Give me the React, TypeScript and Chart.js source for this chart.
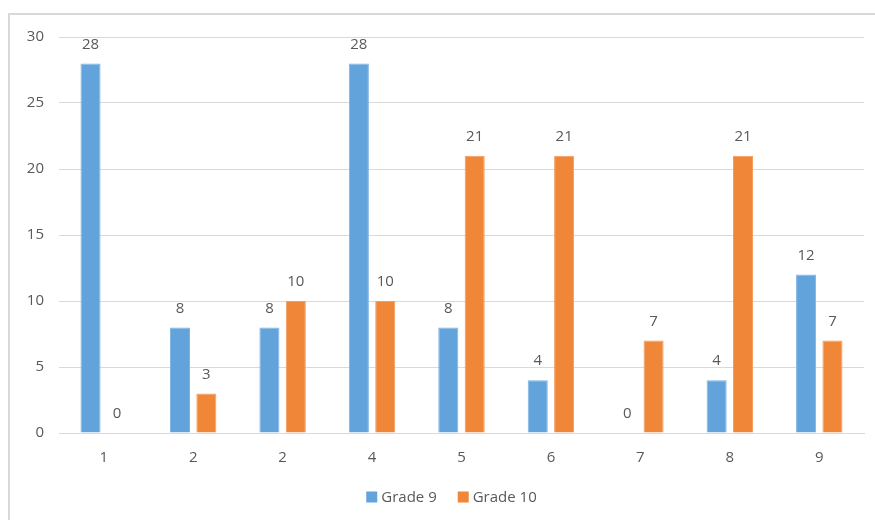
import React, { useEffect, useRef } from "react";
import { Chart, registerables } from "chart.js";

Chart.register(...registerables);

const categories = ["1", "2", "2", "4", "5", "6", "7", "8", "9"];
const grade9 = [28, 8, 8, 28, 8, 4, 0, 4, 12];
const grade10 = [0, 3, 10, 10, 21, 21, 7, 21, 7];
const seriesNames = ["Grade 9", "Grade 10"];
const seriesColors = ["#62a3db", "#ef8638"];
const seriesBorders = ["#7db3e3", "#f39b5a"];
const yTicks = [0, 5, 10, 15, 20, 25, 30];

const FONT = "'Open Sans', 'Noto Sans', sans-serif";
const TEXT = "#595959";

const valueLabels = {
  id: "valueLabels",
  afterDatasetsDraw(chart: any) {
    const ctx = chart.ctx;
    ctx.save();
    ctx.fillStyle = TEXT;
    ctx.font = `15px ${FONT}`;
    ctx.textAlign = "center";
    ctx.textBaseline = "middle";
    chart.data.datasets.forEach((ds: any, i: number) => {
      const meta = chart.getDatasetMeta(i);
      meta.data.forEach((el: any, j: number) => {
        ctx.fillText(String(ds.data[j]), el.x, el.y - 19);
      });
    });
    ctx.restore();
  },
};

const customLegend = {
  id: "customLegend",
  afterDraw(chart: any) {
    const ctx = chart.ctx;
    const area = chart.chartArea;
    ctx.save();
    ctx.font = `15px ${FONT}`;
    ctx.textBaseline = "middle";
    ctx.textAlign = "left";
    const box = 11;
    const gapText = 4;
    const gapItem = 21;
    const items = chart.data.datasets.map((ds: any) => ({
      label: ds.label,
      color: ds.backgroundColor,
      w: box + gapText + ctx.measureText(ds.label).width,
    }));
    const total = items.reduce((a: number, it: any) => a + it.w, 0) + gapItem * (items.length - 1);
    let x = (area.left + area.right) / 2 - 10 - total / 2;
    const y = chart.height - 23;
    items.forEach((it: any) => {
      ctx.fillStyle = it.color;
      ctx.fillRect(x, y - box / 2, box, box);
      ctx.fillStyle = TEXT;
      ctx.fillText(it.label, x + box + gapText, y + 1);
      x += it.w + gapItem;
    });
    ctx.restore();
  },
};

export default function App() {
  const ref = useRef<HTMLCanvasElement>(null);
  useEffect(() => {
    document.body.style.overflow = "hidden";
    const chart = new Chart(ref.current!, {
      type: "bar",
      data: {
        labels: categories,
        datasets: [grade9, grade10].map((d, i) => ({
          label: seriesNames[i],
          data: d,
          backgroundColor: seriesColors[i],
          borderColor: seriesBorders[i],
          borderWidth: 1,
          categoryPercentage: 0.59,
          barPercentage: 0.76,
        })),
      },
      options: {
        animation: false,
        responsive: false,
        maintainAspectRatio: false,
        layout: { padding: { top: 22, right: 11, bottom: 43, left: 0 } },
        scales: {
          x: {
            grid: { display: false, drawTicks: false },
            border: { color: "#d9d9d9" },
            ticks: { color: TEXT, font: { family: FONT, size: 15 }, padding: 16 },
            afterFit: (s: any) => {
              s.height = 44;
              s.paddingLeft = 0;
              s.paddingRight = 0;
            },
          },
          y: {
            min: 0,
            max: 30,
            afterBuildTicks: (s: any) => {
              s.ticks = yTicks.map((v) => ({ value: v }));
            },
            grid: { color: "#d9d9d9", drawTicks: false },
            border: { display: false },
            ticks: { color: TEXT, font: { family: FONT, size: 15 }, padding: 15 },
            afterFit: (s: any) => {
              s.width = 49;
              s.paddingTop = 0;
              s.paddingBottom = 0;
            },
          },
        },
        plugins: {
          legend: { display: false },
          tooltip: { enabled: false },
        },
      },
      plugins: [valueLabels, customLegend],
    });
    return () => chart.destroy();
  }, []);
  return (
    <div
      style={{
        position: "absolute",
        left: 8,
        top: 13,
        width: 880,
        height: 520,
        border: "2px solid #d9d9d9",
        background: "#fff",
        overflow: "hidden",
      }}
    >
      <canvas ref={ref} width={865} height={505} style={{ display: "block" }} />
    </div>
  );
}
